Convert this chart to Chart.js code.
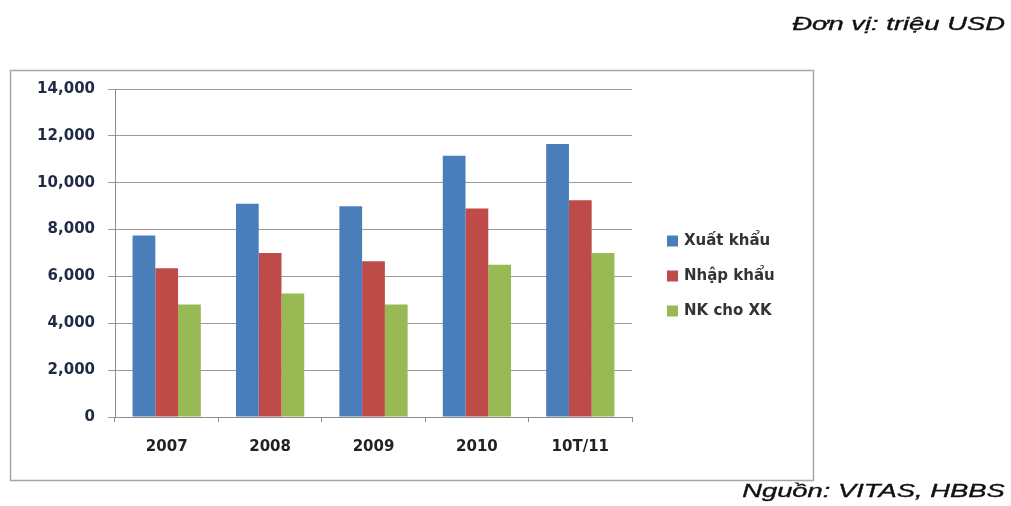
<!DOCTYPE html>
<html lang="vi">
<head>
<meta charset="utf-8">
<title>Xuất nhập khẩu</title>
<script src="https://cdn.jsdelivr.net/npm/chart.js@4"></script>
<style>
    html, body { margin: 0; padding: 0; background: #fff; }
    #wrap { position: relative; width: 1011px; height: 506px; overflow: hidden; }
    #chart { position: absolute; left: 0; top: 0; }
    .note {
        position: absolute;
        right: 6px;
        font-family: "Liberation Sans", Arial, sans-serif;
        font-style: italic;
        font-size: 18px;
        color: #111;
        -webkit-text-stroke: 0.35px #111;
        white-space: nowrap;
        transform: scaleX(1.52);
        transform-origin: right center;
    }
    #donvi { top: 14px; }
    #nguon { top: 481px; }
</style>
</head>
<body>
<div id="wrap">
    <canvas id="chart" width="1011" height="506"></canvas>
    <div class="note" id="donvi">Đơn vị: triệu USD</div>
    <div class="note" id="nguon">Nguồn: VITAS, HBBS</div>
</div>
<script>
const nam = ['2007', '2008', '2009', '2010', '10T/11'];
const xuatKhau = [7750, 9100, 9000, 11150, 11650];
const nhapKhau = [6350, 7000, 6650, 8900, 9250];
const nkChoXk = [4800, 5270, 4800, 6500, 7000];
const mocTruc = [0, 2000, 4000, 6000, 8000, 10000, 12000, 14000];

const mauCot = ['#4a7ebb', '#be4b48', '#98b954'];
const fontChu = 'DejaVu Sans';

// khung viền và chú thích vẽ tay
const khungVaChuThich = {
    id: 'khungVaChuThich',
    beforeDraw(chart) {
        const ctx = chart.ctx;
        ctx.save();
        ctx.strokeStyle = '#a6a6a6';
        ctx.lineWidth = 1.5;
        ctx.strokeRect(10.5, 70.5, 803, 410);
        ctx.restore();
    },
    afterDraw(chart) {
        const ctx = chart.ctx;
        ctx.save();
        ctx.font = 'bold 15px "' + fontChu + '"';
        ctx.textBaseline = 'middle';
        chart.data.datasets.forEach((ds, i) => {
            const y = 241 + i * 35;
            ctx.fillStyle = ds.backgroundColor;
            ctx.fillRect(667, y - 5.5, 11, 11);
            ctx.fillStyle = '#333';
            ctx.fillText(ds.label, 684, y);
        });
        ctx.restore();
    }
};

new Chart(document.getElementById('chart'), {
    type: 'bar',
    data: {
        labels: nam,
        datasets: [
            { label: 'Xuất khẩu', data: xuatKhau, backgroundColor: mauCot[0] },
            { label: 'Nhập khẩu', data: nhapKhau, backgroundColor: mauCot[1] },
            { label: 'NK cho XK', data: nkChoXk, backgroundColor: mauCot[2] }
        ]
    },
    options: {
        responsive: false,
        animation: false,
        categoryPercentage: 0.66,
        barPercentage: 1.0,
        layout: {
            padding: { left: 10, right: 379, top: 89, bottom: 0 }
        },
        plugins: {
            legend: { display: false },
            tooltip: { enabled: false }
        },
        scales: {
            x: {
                afterFit(scale) { scale.height = 89; },
                grid: {
                    drawOnChartArea: false,
                    drawTicks: true,
                    tickLength: 5,
                    color: '#8c8c8c',
                    offset: true
                },
                border: { display: true, color: '#8c8c8c', width: 1 },
                ticks: {
                    padding: 16,
                    color: '#222',
                    font: { family: fontChu, size: 15, weight: 'bold' }
                }
            },
            y: {
                min: mocTruc[0],
                max: mocTruc[mocTruc.length - 1],
                afterFit(scale) { scale.width = 105; },
                afterBuildTicks(scale) {
                    scale.ticks = mocTruc.map(v => ({ value: v }));
                },
                grid: {
                    color: '#9a9a9a',
                    lineWidth: 1,
                    tickLength: 7
                },
                border: { display: true, color: '#8c8c8c', width: 1 },
                ticks: {
                    padding: 13,
                    color: '#1f2a44',
                    font: { family: fontChu, size: 15, weight: 'bold' },
                    callback: v => v.toLocaleString('en-US')
                }
            }
        }
    },
    plugins: [khungVaChuThich]
});
</script>
</body>
</html>
